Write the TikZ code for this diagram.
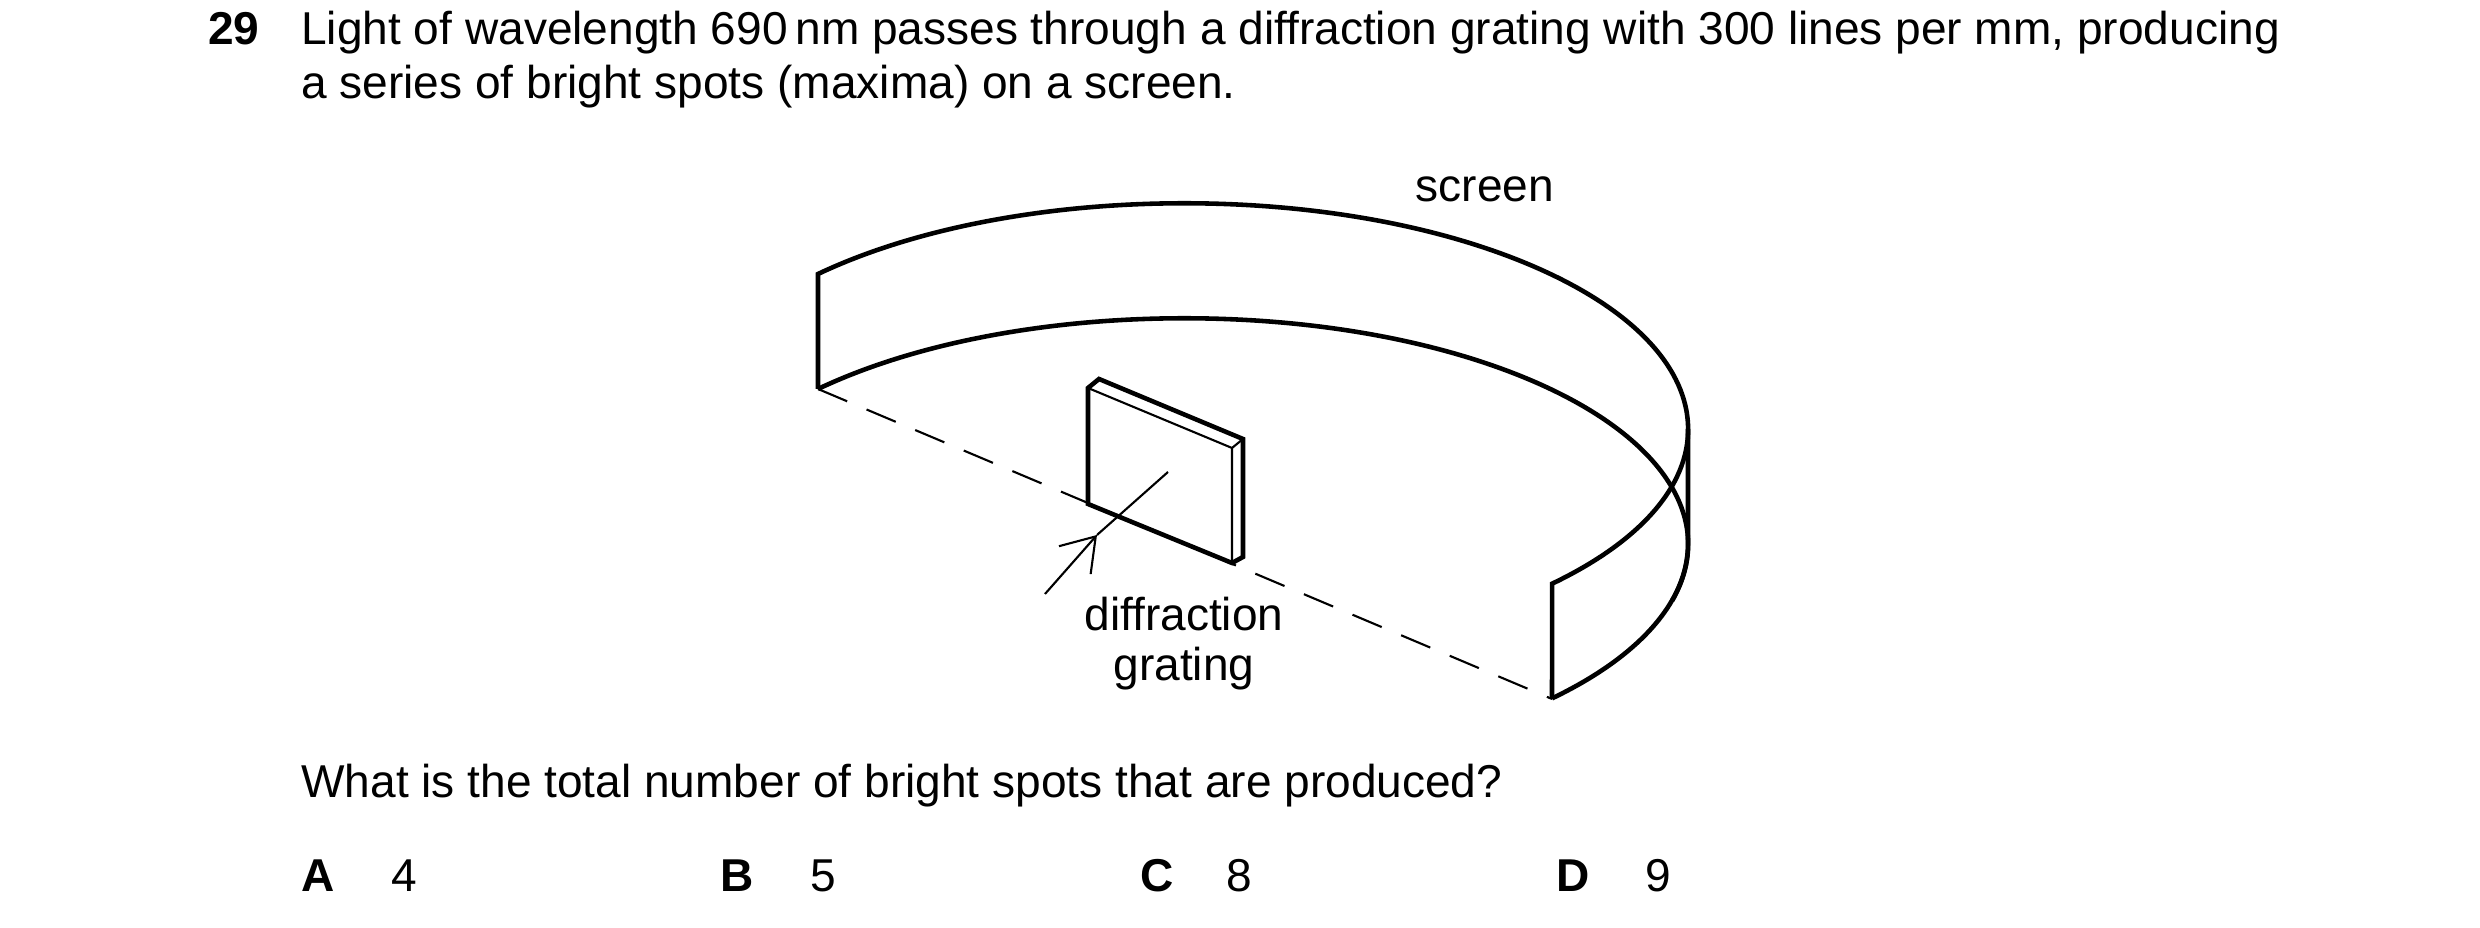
\documentclass[tikz,border=0pt]{standalone}
\usepackage{fontspec}
\setmainfont{Liberation Sans}
\usetikzlibrary{arrows.meta}
\begin{document}
\begin{tikzpicture}[x=0.01cm,y=0.01cm,line width=1.3pt,
  txt/.style={font=\fontsize{13.1}{15}\selectfont,inner sep=0pt},
  thin/.style={line width=.6pt}]
\useasboundingbox (0,0) rectangle (2480,928);
% question text
\node[txt,anchor=base west] (num) at (206,883) {\textbf{29}};
\node[txt,anchor=base west] (l1) at (299,883) {Light of wavelength 690\,nm passes through a diffraction grating with 300 lines per mm, producing};
\node[txt,anchor=base west] (l2) at (299,829) {a series of bright spots (maxima) on a screen.};

% screen
\draw (818,539) -- (818,654) arc[start angle=136.6,end angle=-43.1,x radius=504,y radius=226] -- (1552,229);
\draw (818,539) arc[start angle=136.6,end angle=-14.5,x radius=504,y radius=226];
\draw (1688,499) -- (1688,384) arc[start angle=0,end angle=-43.1,x radius=504,y radius=226];
\draw[thin,dashed,dash pattern=on 9pt off 6pt] (818,539) -- (1552,229);
\node[txt] (scr) at (1485,739) {screen};

% grating
\draw[fill=white] (1088,540) -- (1099,549) -- (1243,489) -- (1243,371) -- (1232,365) -- (1088,424) -- cycle;
\draw[thin] (1088,540) -- (1232,480) -- (1243,489) (1232,480) -- (1232,365);
\coordinate (rayA) at (1045,334);
\coordinate (rayT) at (1097,393);
\coordinate (rayB) at (1168,456);
\draw[thin,-{Straight Barb[length=9pt,width=12pt]}] (rayA) -- (rayT);
\draw[thin] (rayT) -- (rayB);
\node[txt] (gr1) at (1184,314) {diffraction};
\node[txt] (gr2) at (1184,259) {grating};

% question and answers
\node[txt,anchor=west] (q) at (299,142) {What is the total number of bright spots that are produced?};
\node[txt,anchor=base west] (oA) at (299,36) {\textbf{A}};
\node[txt,anchor=base west] (vA) at (389,36) {4};
\node[txt,anchor=base west] (oB) at (718,36) {\textbf{B}};
\node[txt,anchor=base west] (vB) at (808,36) {5};
\node[txt,anchor=base west] (oC) at (1138,36) {\textbf{C}};
\node[txt,anchor=base west] (vC) at (1224,36) {8};
\node[txt,anchor=base west] (oD) at (1554,36) {\textbf{D}};
\node[txt,anchor=base west] (vD) at (1643,36) {9};
\end{tikzpicture}
\end{document}
